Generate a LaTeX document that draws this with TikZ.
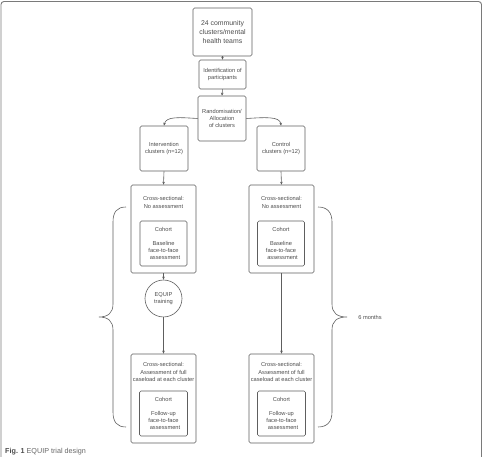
\documentclass[tikz,border=0pt]{standalone}
\usepackage{fontspec}
\setmainfont{Liberation Sans}
\usetikzlibrary{arrows.meta}
\definecolor{ln}{HTML}{5E5E5E}
\definecolor{tx}{HTML}{4C4C4C}
\definecolor{frame}{HTML}{7A7A7A}
\begin{document}
\begin{tikzpicture}[x=1pt,y=-1pt,
  box/.style={draw=ln, line width=0.6pt, rounded corners=1.5pt, inner sep=0pt},
  lbl/.style={text=tx, font=\fontsize{5.7}{7.2}\selectfont, align=center, inner sep=0pt},
  arr/.style={draw=ln, line width=0.6pt, -{Stealth[length=3pt,width=2.6pt]}},
  brace/.style={draw=ln, line width=0.6pt}]
\useasboundingbox (0,0) rectangle (483,457);
\draw[frame, line width=0.9pt, rounded corners=3pt] (1,470) -- (1,1.5) -- (481.5,1.5) -- (481.5,470);

% top chain
\node[box, lbl, minimum width=59pt, minimum height=48pt, font=\fontsize{6.9}{8.7}\selectfont] (top) at (222.5,32) {24 community\\clusters/mental\\health teams};
\node[box, lbl, minimum width=47pt, minimum height=29pt] (ident) at (222.5,74.5) {Identification of\\participants};
\node[box, lbl, minimum width=48pt, minimum height=45pt] (rand) at (222,118.5) {Randomisation/\\Allocation\\of clusters};
\node[box, lbl, minimum width=48pt, minimum height=45pt] (interv) at (164,148.5) {Intervention\\clusters (n=12)};
\node[box, lbl, minimum width=48pt, minimum height=45pt] (control) at (281,148.5) {Control\\clusters (n=12)};

% cross-sectional boxes (top)
\node[box, minimum width=65pt, minimum height=88pt] (crossL) at (163.5,229) {};
\node[box, minimum width=65pt, minimum height=88pt] (crossR) at (281.5,229) {};
\node[lbl] (crossLt) at (163.5,202.5) {Cross-sectional:\\No assessment};
\node[lbl] (crossRt) at (281.5,202.5) {Cross-sectional:\\No assessment};
\node[box, lbl, minimum width=47pt, minimum height=45pt] (cohL) at (163.5,243.5) {Cohort\\[6.5pt]Baseline\\face-to-face\\\hspace*{3pt}assessment};
\node[box, lbl, minimum width=47pt, minimum height=45pt] (cohR) at (281,243.5) {Cohort\\[6.5pt]Baseline\\face-to-face\\\hspace*{3pt}assessment};

% EQUIP training
\node[draw=ln, line width=0.6pt, circle, minimum size=37pt, inner sep=0pt, lbl] (equip) at (163.5,298.5) {EQUIP\\training};

% bottom boxes
\node[box, minimum width=65pt, minimum height=89pt] (botL) at (163.5,398.5) {};
\node[box, minimum width=65pt, minimum height=89pt] (botR) at (281.5,398.5) {};
\node[lbl] (botLt) at (163.5,372) {Cross-sectional:\\Assessment of full\\caseload at each cluster};
\node[lbl] (botRt) at (281.5,372) {Cross-sectional:\\Assessment of full\\caseload at each cluster};
\node[box, lbl, minimum width=48pt, minimum height=45pt] (fuL) at (163.5,413.5) {Cohort\\[6.5pt]Follow-up\\face-to-face\\\hspace*{3pt}assessment};
\node[box, lbl, minimum width=48pt, minimum height=45pt] (fuR) at (281.5,413.5) {Cohort\\[6.5pt]Follow-up\\face-to-face\\\hspace*{3pt}assessment};

% arrows
\draw[arr] (top.south) -- (ident.north);
\draw[arr] (ident.south) -- (rand.north);
\draw[arr] (rand.west) .. controls (180,117.5) and (166,116) .. (interv.north);
\draw[arr] (rand.east) .. controls (264,117.5) and (280,116) .. (control.north);
\draw[arr] (interv.south) -- (crossL.north);
\draw[arr] (control.south) -- (crossR.north);
\draw[arr] (crossL.south) -- (equip.north);
\draw[arr] (equip.south) -- (botL.north);
\draw[arr] (crossR.south) -- (botR.north);

% braces
\coordinate (lbTop) at (126,207);
\coordinate (lbBot) at (126,427);
\coordinate (rbTop) at (318,207);
\coordinate (rbBot) at (318,427);
\draw[brace] (lbTop) .. controls (117,207) and (113,212) .. (113,222) -- (113,304)
  .. controls (113,313) and (108,317) .. (99,317)
  .. controls (108,317) and (113,321) .. (113,330) -- (113,412)
  .. controls (113,422) and (117,427) .. (lbBot);
\draw[brace] (rbTop) .. controls (327,207) and (332,212) .. (332,222) -- (332,304)
  .. controls (332,313) and (337,317) .. (347,317)
  .. controls (337,317) and (332,321) .. (332,330) -- (332,412)
  .. controls (332,422) and (327,427) .. (rbBot);
\node[lbl] (six) at (370,317) {6 months};

% caption
\node[anchor=west, inner sep=0pt, font=\fontsize{7.2}{8}\selectfont, text=tx] (cap) at (5,452) {\textbf{Fig. 1} \textcolor{black!60}{EQUIP trial design}};
\end{tikzpicture}
\end{document}
